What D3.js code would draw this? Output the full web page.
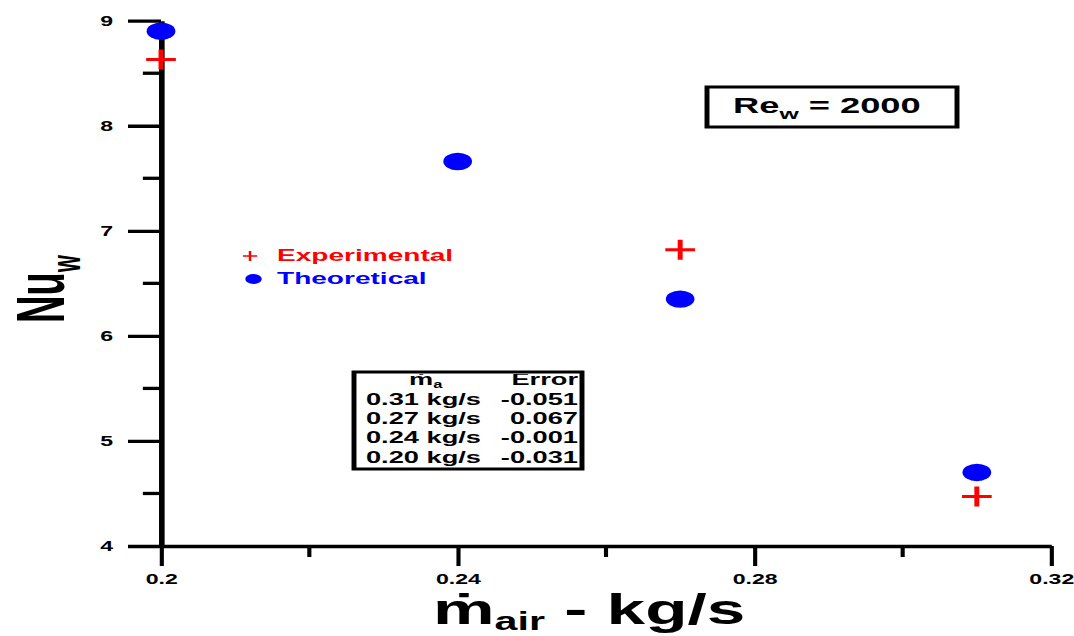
<!DOCTYPE html>
<html>
<head>
<meta charset="utf-8">
<script src="https://cdn.jsdelivr.net/npm/d3@7"></script>
<style>
  body { margin: 0; background: #fff; }
  svg { display: block; font-family: "Liberation Sans", Arial, sans-serif; font-weight: bold; }
</style>
</head>
<body>
<div id="content"></div>
<script>
// chart data
var mAir = [0.20, 0.24, 0.27, 0.31];
var theoretical = [8.90, 7.66, 6.35, 4.70];
var expMass = [0.20, 0.27, 0.31];
var experimental = [8.63, 6.82, 4.47];

var xTicks = [0.2, 0.24, 0.28, 0.32];
var xTickLabels = ["0.2", "0.24", "0.28", "0.32"];
var xMinor = [0.22, 0.26, 0.30];
var yTicks = [4, 5, 6, 7, 8, 9];
var yTickLabels = ["4", "5", "6", "7", "8", "9"];
var yMinor = [4.5, 5.5, 6.5, 7.5, 8.5];

var tableMass = ["0.31 kg/s", "0.27 kg/s", "0.24 kg/s", "0.20 kg/s"];
var tableError = ["-0.051", "0.067", "-0.001", "-0.031"];

// the picture is stretched sideways, so draw everything in a squeezed frame
var SX = 1.65;
var width = 1074, height = 636;
function fx(px) { return px / SX; }

var svg = d3.select("#content").append("svg")
  .attr("width", width)
  .attr("height", height);

svg.append("rect").attr("width", width).attr("height", height).attr("fill", "#fff");

var g = svg.append("g").attr("transform", "scale(" + SX + ",1)");

var x = d3.scaleLinear().domain([0.2, 0.32]).range([fx(161), fx(1051)]);
var y = d3.scaleLinear().domain([4, 9]).range([546, 20.7]);

// x axis
var xAxis = g.append("g")
  .attr("transform", "translate(0," + y(4) + ")")
  .call(d3.axisBottom(x).tickValues(xTicks).tickSize(20).tickSizeOuter(0).tickPadding(8)
    .tickFormat(function(d, i) { return xTickLabels[i]; }));
xAxis.select(".domain").attr("stroke-width", 3.3);
xAxis.selectAll(".tick line").attr("stroke-width", 2.5);
xAxis.selectAll(".tick text").attr("font-size", 14).attr("font-family", null).attr("fill", "#000");

xAxis.selectAll(".minor").data(xMinor).enter().append("line")
  .attr("class", "minor")
  .attr("x1", function(d) { return x(d); })
  .attr("x2", function(d) { return x(d); })
  .attr("y1", 0).attr("y2", 11)
  .attr("stroke", "#000").attr("stroke-width", 2.5);

// y axis
var yAxis = g.append("g")
  .attr("transform", "translate(" + x(0.2) + ",0)")
  .call(d3.axisLeft(y).tickValues(yTicks).tickSize(20).tickSizeOuter(0).tickPadding(9)
    .tickFormat(function(d, i) { return yTickLabels[i]; }));
yAxis.select(".domain").attr("stroke-width", 3.4);
yAxis.selectAll(".tick line").attr("stroke-width", 3.3);
yAxis.selectAll(".tick text").attr("font-size", 14).attr("font-family", null).attr("fill", "#000");

yAxis.selectAll(".minor").data(yMinor).enter().append("line")
  .attr("class", "minor")
  .attr("x1", -11).attr("x2", 0)
  .attr("y1", function(d) { return y(d); })
  .attr("y2", function(d) { return y(d); })
  .attr("stroke", "#000").attr("stroke-width", 3.3);

// experimental points (red plus)
g.selectAll(".exp").data(expMass).enter().append("path")
  .attr("class", "exp")
  .attr("transform", function(d, i) { return "translate(" + x(d) + "," + y(experimental[i]) + ")"; })
  .attr("d", "M-9,0H9M0,-10V10")
  .attr("stroke", "#ff0000").attr("stroke-width", 3).attr("fill", "none");

// theoretical points (blue dots)
g.selectAll(".theo").data(mAir).enter().append("circle")
  .attr("class", "theo")
  .attr("cx", function(d) { return x(d); })
  .attr("cy", function(d, i) { return y(theoretical[i]); })
  .attr("r", 8.7)
  .attr("fill", "#0000ff");

// legend
g.append("path")
  .attr("transform", "translate(" + fx(250) + ",256)")
  .attr("d", "M-4.3,0H4.3M0,-5V5")
  .attr("stroke", "#ff0000").attr("stroke-width", 1.5).attr("fill", "none");
g.append("text").attr("x", fx(277)).attr("y", 261)
  .attr("font-size", 17).attr("fill", "#ff0000").text("Experimental");
g.append("circle").attr("cx", fx(253.5)).attr("cy", 279).attr("r", 5).attr("fill", "#0000ff");
g.append("text").attr("x", fx(277)).attr("y", 284)
  .attr("font-size", 17).attr("fill", "#0000ff").text("Theoretical");

// Re box
g.append("rect")
  .attr("x", fx(707)).attr("y", 87)
  .attr("width", fx(957) - fx(707)).attr("height", 40)
  .attr("fill", "#fff").attr("stroke", "#000").attr("stroke-width", 3);
var re = g.append("text").attr("x", fx(733)).attr("y", 113).attr("font-size", 22);
re.append("tspan").text("Re");
re.append("tspan").attr("font-size", 15).attr("dy", 6).text("w");
re.append("tspan").attr("dy", -6).text(" = 2000");

// error table
var tx0 = fx(354), tx1 = fx(582);
g.append("clipPath").attr("id", "tclip").append("rect")
  .attr("x", tx0).attr("y", 374).attr("width", tx1 - tx0).attr("height", 95);
var tbl = g.append("g").attr("clip-path", "url(#tclip)").attr("font-size", 16.5);
var hd = tbl.append("text").attr("x", fx(409)).attr("y", 385);
hd.append("tspan").text("\u1E41");
hd.append("tspan").attr("font-size", 10).attr("dy", 3).text("a");
tbl.append("text").attr("x", fx(578)).attr("y", 385).attr("text-anchor", "end").text("Error");
tbl.selectAll(".mass").data(tableMass).enter().append("text")
  .attr("class", "mass")
  .attr("x", fx(366))
  .attr("y", function(d, i) { return 405 + i * 19.2; })
  .text(function(d) { return d; });
tbl.selectAll(".err").data(tableError).enter().append("text")
  .attr("class", "err")
  .attr("x", fx(578))
  .attr("y", function(d, i) { return 405 + i * 19.2; })
  .attr("text-anchor", "end")
  .text(function(d) { return d; });
g.append("rect")
  .attr("x", tx0).attr("y", 372)
  .attr("width", tx1 - tx0).attr("height", 97)
  .attr("fill", "none").attr("stroke", "#000").attr("stroke-width", 3);

// axis titles
var xt = g.append("text").attr("x", fx(433)).attr("y", 624).attr("font-size", 42);
xt.append("tspan").text("\u1E41");
xt.append("tspan").attr("font-size", 25).attr("dy", 6).text("air");
xt.append("tspan").attr("dy", -6).text(" - kg/s");

var yt = g.append("text")
  .attr("transform", "translate(" + fx(64) + ",323) rotate(-90) scale(1,1.1)")
  .attr("font-size", 38);
yt.append("tspan").text("Nu");
yt.append("tspan").attr("font-size", 22).attr("dy", 9).text("w");
</script>
</body>
</html>
